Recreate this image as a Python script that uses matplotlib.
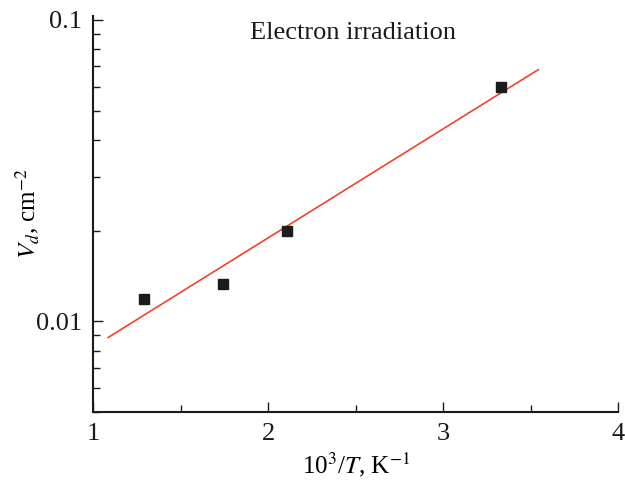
import numpy as np
import matplotlib
matplotlib.use("Agg")
import matplotlib.pyplot as plt
from matplotlib.ticker import LogLocator, FixedLocator, NullFormatter, FixedFormatter

x_pts = [1.29, 1.74, 2.11, 3.33]
y_pts = [0.0119, 0.0133, 0.0200, 0.0598]
fit_x_range = [1.086, 3.543]
x_ticks = [1, 2, 3, 4]
x_minor = [1.5, 2.5, 3.5]
y_ticks = [0.01, 0.1]
y_ticklabels = ["0.01", "0.1"]

plt.rcParams['font.family'] = ['Liberation Serif', 'DejaVu Serif']
plt.rcParams['mathtext.fontset'] = 'stix'

fig = plt.figure(figsize=(6.25, 4.82), dpi=100)
ax = fig.add_axes([0.149, 0.145, 0.84, 0.822])

coef = np.polyfit(x_pts, np.log10(y_pts), 1)
fx = np.array(fit_x_range)
ax.plot(fx, 10 ** np.polyval(coef, fx), color='#f0432a', lw=1.2, zorder=2)
ax.plot(x_pts, y_pts, 's', color='#1c1c1c', ms=6.5, zorder=3)

ax.set_yscale('log')
ax.set_xlim(1, 4)
ax.set_ylim(0.005, 0.103)

ax.xaxis.set_major_locator(FixedLocator(x_ticks))
ax.xaxis.set_minor_locator(FixedLocator(x_minor))
ax.set_xticklabels([str(t) for t in x_ticks])
ax.yaxis.set_major_locator(FixedLocator(y_ticks))
ax.yaxis.set_major_formatter(FixedFormatter(y_ticklabels))
ax.yaxis.set_minor_locator(LogLocator(base=10, subs=np.arange(2, 10)))
ax.yaxis.set_minor_formatter(NullFormatter())

for s in ['top', 'right']:
    ax.spines[s].set_visible(False)
for s in ['left', 'bottom']:
    ax.spines[s].set_linewidth(1.5)
    ax.spines[s].set_color('#1a1a1a')

ax.tick_params(which='both', direction='in', colors='#1a1a1a', labelsize=19, width=1.0)
ax.tick_params(which='major', length=7, pad=8)
ax.tick_params(which='minor', length=5)

ax.set_xlabel('10$^3$/$T$, K$^{-1}$', fontsize=18, labelpad=4)
ax.set_ylabel(r'$V_d$, cm$^{-2}$', fontsize=18, labelpad=-4)
ax.text(0.495, 0.957, 'Electron irradiation', transform=ax.transAxes,
        ha='center', va='center', fontsize=19, color='#1a1a1a')

fig.savefig('out.png', dpi=100)
